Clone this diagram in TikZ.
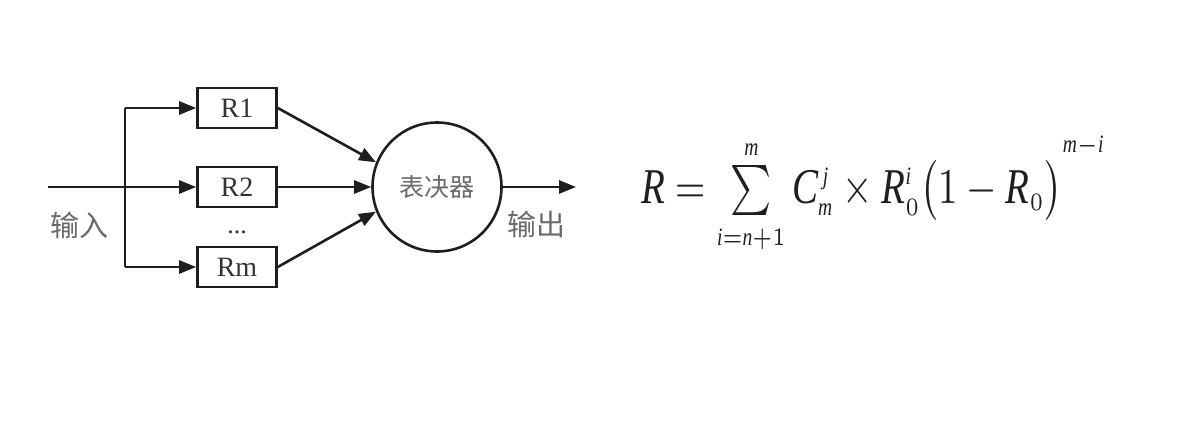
\documentclass[tikz,border=0pt]{standalone}
\usepackage{graphicx}
\usepackage{fontspec}
\setmainfont{Liberation Serif}
\newfontfamily\cjk{Noto Sans CJK SC}
\usetikzlibrary{arrows.meta}
\definecolor{ink}{HTML}{1E1E1E}
\definecolor{cjkgray}{HTML}{6A6A6A}
\definecolor{rgray}{HTML}{333333}
\newcommand{\mi}[1]{\mathit{#1}}
\newcommand{\tinyscr}[1]{{\scriptscriptstyle #1}}
\begin{document}
\begin{tikzpicture}[x=1pt,y=-1pt,
  line width=2.6pt, draw=ink,
  unit/.style={draw=ink, line width=2.6pt, minimum width=79pt, minimum height=40pt, inner sep=0pt,
    text=rgray, font=\fontsize{28}{30}\selectfont},
  voter/.style={circle, draw=ink, line width=2.6pt, minimum size=129pt, inner sep=0pt,
    text=cjkgray, font=\cjk\fontsize{25}{27}\selectfont},
  lab/.style={text=cjkgray, font=\cjk\fontsize{29}{31}\selectfont, inner sep=0pt},
  arr/.style={-{Triangle[length=17pt,width=13pt]}, line width=2.6pt, draw=ink}]
\useasboundingbox (0,0) rectangle (1186,444);
\fill[white] (0,0) rectangle (1186,444);
\node[unit] (r1) at (237,108) {R1};
\node[unit] (r2) at (237,187) {R2};
\node[unit] (rm) at (237,267) {Rm};
\node[text=rgray, font=\fontsize{26}{28}\selectfont, inner sep=0pt] (dots) at (237,232) {...};
\node[voter] (v) at (437,187) {表决器};
\coordinate (in) at (48,187);
\coordinate (split) at (125,187);
\coordinate (top) at (125,108);
\coordinate (bot) at (125,267);
\coordinate (out) at (576,187);
\draw (in) -- (split);
\draw (top) -- (bot);
\draw[arr] (split) -- (r2.west);
\draw[arr] (top) -- (r1.west);
\draw[arr] (bot) -- (rm.west);
\draw[arr] (r1.east) -- (v.158);
\draw[arr] (r2.east) -- (v.west);
\draw[arr] (rm.east) -- (v.202);
\draw[arr] (v.east) -- (out);
\node[lab] (inl) at (79,225) {输入};
\node[lab] (outl) at (536,224) {输出};
\node[text=ink, inner sep=0pt, anchor=base west] (f) at (640,203)
  {\scalebox{3.9}[5.0]{$\mi{R}=\sum\limits_{\tinyscr{\mi{i}=\mi{n}+1}}^{\tinyscr{\mi{m}}}\mi{C}_{\tinyscr{\mi{m}}}^{\tinyscr{\,\mi{j}}}\times \mi{R}_{\tinyscr{0}}^{\tinyscr{\mi{i}}}\bigl(1-\mi{R}_{\tinyscr{0}}\bigr)^{\raisebox{4pt}{$\tinyscr{\mi{m}-\mi{i}}$}}$}};
\end{tikzpicture}
\end{document}
